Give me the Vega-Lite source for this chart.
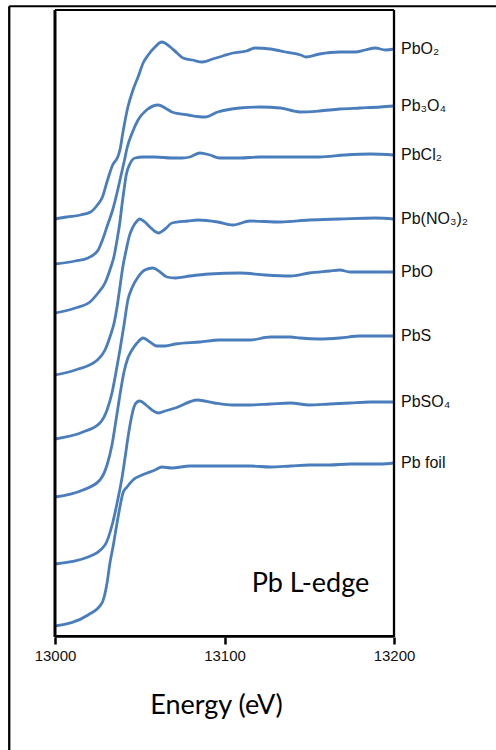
{
  "$schema": "https://vega.github.io/schema/vega-lite/v6.json",
  "width": 496,
  "height": 750,
  "padding": 0,
  "autosize": {"type": "none"},
  "background": "white",
  "config": {
    "view": {"stroke": null},
    "axisX": {"domain": false, "grid": false, "tickSize": 7, "tickWidth": 2.5, "tickColor": "black",
              "labelFont": "Liberation Sans", "labelFontSize": 15, "labelColor": "#111", "labelPadding": 4, "labelFlush": false,
              "titleFont": "Lato", "titleFontSize": 27, "titleFontWeight": 400, "titleColor": "black"}
  },
  "datasets": {
    "spectra": [
    {"sample":"PbO₂","energy":13000,"absorbance":4.18},{"sample":"PbO₂","energy":13007,"absorbance":4.20},{"sample":"PbO₂","energy":13015,"absorbance":4.22},{"sample":"PbO₂","energy":13021,"absorbance":4.25},{"sample":"PbO₂","energy":13025,"absorbance":4.32},{"sample":"PbO₂","energy":13028,"absorbance":4.40},{"sample":"PbO₂","energy":13031,"absorbance":4.57},{"sample":"PbO₂","energy":13034,"absorbance":4.72},{"sample":"PbO₂","energy":13037,"absorbance":4.80},{"sample":"PbO₂","energy":13038.3,"absorbance":4.87},{"sample":"PbO₂","energy":13040,"absorbance":5.04},{"sample":"PbO₂","energy":13043,"absorbance":5.30},{"sample":"PbO₂","energy":13046,"absorbance":5.47},{"sample":"PbO₂","energy":13049,"absorbance":5.60},{"sample":"PbO₂","energy":13052,"absorbance":5.74},{"sample":"PbO₂","energy":13055,"absorbance":5.82},{"sample":"PbO₂","energy":13059,"absorbance":5.90},{"sample":"PbO₂","energy":13063,"absorbance":5.95},{"sample":"PbO₂","energy":13068,"absorbance":5.90},{"sample":"PbO₂","energy":13072,"absorbance":5.84},{"sample":"PbO₂","energy":13075.5,"absorbance":5.79},{"sample":"PbO₂","energy":13081,"absorbance":5.77},{"sample":"PbO₂","energy":13087,"absorbance":5.75},{"sample":"PbO₂","energy":13093,"absorbance":5.78},{"sample":"PbO₂","energy":13099,"absorbance":5.81},{"sample":"PbO₂","energy":13105,"absorbance":5.84},{"sample":"PbO₂","energy":13113,"absorbance":5.86},{"sample":"PbO₂","energy":13118,"absorbance":5.89},{"sample":"PbO₂","energy":13127,"absorbance":5.88},{"sample":"PbO₂","energy":13136,"absorbance":5.85},{"sample":"PbO₂","energy":13145,"absorbance":5.82},{"sample":"PbO₂","energy":13148,"absorbance":5.80},{"sample":"PbO₂","energy":13156,"absorbance":5.83},{"sample":"PbO₂","energy":13168,"absorbance":5.85},{"sample":"PbO₂","energy":13177,"absorbance":5.85},{"sample":"PbO₂","energy":13183,"absorbance":5.87},{"sample":"PbO₂","energy":13189,"absorbance":5.89},{"sample":"PbO₂","energy":13195,"absorbance":5.87},{"sample":"PbO₂","energy":13200,"absorbance":5.88},

    {"sample":"Pb₃O₄","energy":13000,"absorbance":3.73},{"sample":"Pb₃O₄","energy":13012,"absorbance":3.76},{"sample":"Pb₃O₄","energy":13019.5,"absorbance":3.79},{"sample":"Pb₃O₄","energy":13024,"absorbance":3.84},{"sample":"Pb₃O₄","energy":13025.5,"absorbance":3.87},{"sample":"Pb₃O₄","energy":13028,"absorbance":3.97},{"sample":"Pb₃O₄","energy":13031,"absorbance":4.12},{"sample":"Pb₃O₄","energy":13034,"absorbance":4.27},{"sample":"Pb₃O₄","energy":13037,"absorbance":4.47},{"sample":"Pb₃O₄","energy":13039,"absorbance":4.62},{"sample":"Pb₃O₄","energy":13041,"absorbance":4.77},{"sample":"Pb₃O₄","energy":13042.5,"absorbance":4.89},{"sample":"Pb₃O₄","energy":13045.5,"absorbance":5.04},{"sample":"Pb₃O₄","energy":13049,"absorbance":5.17},{"sample":"Pb₃O₄","energy":13054,"absorbance":5.27},{"sample":"Pb₃O₄","energy":13061,"absorbance":5.32},{"sample":"Pb₃O₄","energy":13065,"absorbance":5.29},{"sample":"Pb₃O₄","energy":13069,"absorbance":5.25},{"sample":"Pb₃O₄","energy":13078.5,"absorbance":5.22},{"sample":"Pb₃O₄","energy":13088.5,"absorbance":5.20},{"sample":"Pb₃O₄","energy":13096,"absorbance":5.25},{"sample":"Pb₃O₄","energy":13109,"absorbance":5.29},{"sample":"Pb₃O₄","energy":13121,"absorbance":5.30},{"sample":"Pb₃O₄","energy":13133,"absorbance":5.29},{"sample":"Pb₃O₄","energy":13144.5,"absorbance":5.25},{"sample":"Pb₃O₄","energy":13156,"absorbance":5.26},{"sample":"Pb₃O₄","energy":13168,"absorbance":5.28},{"sample":"Pb₃O₄","energy":13180,"absorbance":5.29},{"sample":"Pb₃O₄","energy":13192,"absorbance":5.30},{"sample":"Pb₃O₄","energy":13200,"absorbance":5.31},

    {"sample":"PbCl₂","energy":13000,"absorbance":3.24},{"sample":"PbCl₂","energy":13012,"absorbance":3.29},{"sample":"PbCl₂","energy":13020.6,"absorbance":3.35},{"sample":"PbCl₂","energy":13025.4,"absorbance":3.44},{"sample":"PbCl₂","energy":13029.5,"absorbance":3.54},{"sample":"PbCl₂","energy":13032.4,"absorbance":3.67},{"sample":"PbCl₂","energy":13035,"absorbance":3.82},{"sample":"PbCl₂","energy":13036.6,"absorbance":3.97},{"sample":"PbCl₂","energy":13038.3,"absorbance":4.15},{"sample":"PbCl₂","energy":13039.5,"absorbance":4.32},{"sample":"PbCl₂","energy":13040.7,"absorbance":4.47},{"sample":"PbCl₂","energy":13042,"absorbance":4.62},{"sample":"PbCl₂","energy":13044.2,"absorbance":4.73},{"sample":"PbCl₂","energy":13047.2,"absorbance":4.79},{"sample":"PbCl₂","energy":13052,"absorbance":4.80},{"sample":"PbCl₂","energy":13059,"absorbance":4.80},{"sample":"PbCl₂","energy":13069,"absorbance":4.79},{"sample":"PbCl₂","energy":13075,"absorbance":4.79},{"sample":"PbCl₂","energy":13079.6,"absorbance":4.80},{"sample":"PbCl₂","energy":13085.5,"absorbance":4.84},{"sample":"PbCl₂","energy":13091.4,"absorbance":4.82},{"sample":"PbCl₂","energy":13097,"absorbance":4.79},{"sample":"PbCl₂","energy":13109,"absorbance":4.79},{"sample":"PbCl₂","energy":13121,"absorbance":4.80},{"sample":"PbCl₂","energy":13133,"absorbance":4.80},{"sample":"PbCl₂","energy":13144.5,"absorbance":4.80},{"sample":"PbCl₂","energy":13156,"absorbance":4.80},{"sample":"PbCl₂","energy":13171,"absorbance":4.82},{"sample":"PbCl₂","energy":13186,"absorbance":4.83},{"sample":"PbCl₂","energy":13200,"absorbance":4.82},

    {"sample":"Pb(NO₃)₂","energy":13000,"absorbance":2.62},{"sample":"Pb(NO₃)₂","energy":13012,"absorbance":2.67},{"sample":"Pb(NO₃)₂","energy":13025,"absorbance":2.77},{"sample":"Pb(NO₃)₂","energy":13029.5,"absorbance":2.87},{"sample":"Pb(NO₃)₂","energy":13032.4,"absorbance":3.00},{"sample":"Pb(NO₃)₂","energy":13035,"absorbance":3.15},{"sample":"Pb(NO₃)₂","energy":13036.6,"absorbance":3.30},{"sample":"Pb(NO₃)₂","energy":13038.3,"absorbance":3.50},{"sample":"Pb(NO₃)₂","energy":13040,"absorbance":3.70},{"sample":"Pb(NO₃)₂","energy":13042,"absorbance":3.87},{"sample":"Pb(NO₃)₂","energy":13043.7,"absorbance":4.00},{"sample":"Pb(NO₃)₂","energy":13046,"absorbance":4.10},{"sample":"Pb(NO₃)₂","energy":13048.4,"absorbance":4.16},{"sample":"Pb(NO₃)₂","energy":13050,"absorbance":4.18},{"sample":"Pb(NO₃)₂","energy":13053,"absorbance":4.15},{"sample":"Pb(NO₃)₂","energy":13056,"absorbance":4.10},{"sample":"Pb(NO₃)₂","energy":13061,"absorbance":4.04},{"sample":"Pb(NO₃)₂","energy":13065,"absorbance":4.08},{"sample":"Pb(NO₃)₂","energy":13069,"absorbance":4.14},{"sample":"Pb(NO₃)₂","energy":13078.5,"absorbance":4.16},{"sample":"Pb(NO₃)₂","energy":13084.4,"absorbance":4.17},{"sample":"Pb(NO₃)₂","energy":13096,"absorbance":4.15},{"sample":"Pb(NO₃)₂","energy":13105,"absorbance":4.12},{"sample":"Pb(NO₃)₂","energy":13115,"absorbance":4.16},{"sample":"Pb(NO₃)₂","energy":13133,"absorbance":4.15},{"sample":"Pb(NO₃)₂","energy":13150,"absorbance":4.17},{"sample":"Pb(NO₃)₂","energy":13168,"absorbance":4.18},{"sample":"Pb(NO₃)₂","energy":13189,"absorbance":4.19},{"sample":"Pb(NO₃)₂","energy":13200,"absorbance":4.18},

    {"sample":"PbO","energy":13000,"absorbance":1.98},{"sample":"PbO","energy":13016.5,"absorbance":2.05},{"sample":"PbO","energy":13026.5,"absorbance":2.14},{"sample":"PbO","energy":13030.7,"absorbance":2.27},{"sample":"PbO","energy":13033.6,"absorbance":2.44},{"sample":"PbO","energy":13036,"absorbance":2.65},{"sample":"PbO","energy":13038.3,"absorbance":2.87},{"sample":"PbO","energy":13040.7,"absorbance":3.12},{"sample":"PbO","energy":13043,"absorbance":3.37},{"sample":"PbO","energy":13045.4,"absorbance":3.49},{"sample":"PbO","energy":13049,"absorbance":3.60},{"sample":"PbO","energy":13053,"absorbance":3.67},{"sample":"PbO","energy":13057.8,"absorbance":3.69},{"sample":"PbO","energy":13062,"absorbance":3.65},{"sample":"PbO","energy":13066,"absorbance":3.60},{"sample":"PbO","energy":13071,"absorbance":3.59},{"sample":"PbO","energy":13079.6,"absorbance":3.61},{"sample":"PbO","energy":13091,"absorbance":3.63},{"sample":"PbO","energy":13109,"absorbance":3.64},{"sample":"PbO","energy":13124,"absorbance":3.62},{"sample":"PbO","energy":13139,"absorbance":3.61},{"sample":"PbO","energy":13150,"absorbance":3.64},{"sample":"PbO","energy":13162,"absorbance":3.66},{"sample":"PbO","energy":13168,"absorbance":3.67},{"sample":"PbO","energy":13174,"absorbance":3.65},{"sample":"PbO","energy":13186,"absorbance":3.65},{"sample":"PbO","energy":13200,"absorbance":3.65},

    {"sample":"PbS","energy":13000,"absorbance":1.40},{"sample":"PbS","energy":13016.5,"absorbance":1.47},{"sample":"PbS","energy":13026.5,"absorbance":1.57},{"sample":"PbS","energy":13030.7,"absorbance":1.72},{"sample":"PbS","energy":13033.6,"absorbance":1.92},{"sample":"PbS","energy":13036,"absorbance":2.17},{"sample":"PbS","energy":13038.3,"absorbance":2.42},{"sample":"PbS","energy":13040.7,"absorbance":2.65},{"sample":"PbS","energy":13043,"absorbance":2.79},{"sample":"PbS","energy":13045.4,"absorbance":2.87},{"sample":"PbS","energy":13048.4,"absorbance":2.94},{"sample":"PbS","energy":13052,"absorbance":2.99},{"sample":"PbS","energy":13056,"absorbance":2.95},{"sample":"PbS","energy":13060,"absorbance":2.91},{"sample":"PbS","energy":13065,"absorbance":2.91},{"sample":"PbS","energy":13071,"absorbance":2.93},{"sample":"PbS","energy":13085.5,"absorbance":2.95},{"sample":"PbS","energy":13097,"absorbance":2.97},{"sample":"PbS","energy":13115,"absorbance":2.97},{"sample":"PbS","energy":13127,"absorbance":3.00},{"sample":"PbS","energy":13139,"absorbance":3.00},{"sample":"PbS","energy":13144.5,"absorbance":2.99},{"sample":"PbS","energy":13156,"absorbance":2.98},{"sample":"PbS","energy":13168,"absorbance":2.99},{"sample":"PbS","energy":13180,"absorbance":3.01},{"sample":"PbS","energy":13200,"absorbance":3.01},

    {"sample":"PbSO₄","energy":13000,"absorbance":0.73},{"sample":"PbSO₄","energy":13019.5,"absorbance":0.80},{"sample":"PbSO₄","energy":13029.5,"absorbance":0.92},{"sample":"PbSO₄","energy":13034,"absorbance":1.14},{"sample":"PbSO₄","energy":13037,"absorbance":1.37},{"sample":"PbSO₄","energy":13039.5,"absorbance":1.59},{"sample":"PbSO₄","energy":13041.3,"absorbance":1.79},{"sample":"PbSO₄","energy":13043,"absorbance":1.99},{"sample":"PbSO₄","energy":13044.8,"absorbance":2.17},{"sample":"PbSO₄","energy":13046.6,"absorbance":2.30},{"sample":"PbSO₄","energy":13048.4,"absorbance":2.35},{"sample":"PbSO₄","energy":13050,"absorbance":2.36},{"sample":"PbSO₄","energy":13053.7,"absorbance":2.32},{"sample":"PbSO₄","energy":13057.2,"absorbance":2.27},{"sample":"PbSO₄","energy":13061,"absorbance":2.24},{"sample":"PbSO₄","energy":13065,"absorbance":2.26},{"sample":"PbSO₄","energy":13071,"absorbance":2.29},{"sample":"PbSO₄","energy":13084,"absorbance":2.37},{"sample":"PbSO₄","energy":13094,"absorbance":2.34},{"sample":"PbSO₄","energy":13105,"absorbance":2.32},{"sample":"PbSO₄","energy":13115,"absorbance":2.32},{"sample":"PbSO₄","energy":13127,"absorbance":2.33},{"sample":"PbSO₄","energy":13139,"absorbance":2.34},{"sample":"PbSO₄","energy":13150,"absorbance":2.32},{"sample":"PbSO₄","energy":13162,"absorbance":2.33},{"sample":"PbSO₄","energy":13174,"absorbance":2.34},{"sample":"PbSO₄","energy":13186,"absorbance":2.35},{"sample":"PbSO₄","energy":13200,"absorbance":2.35},

    {"sample":"Pb foil","energy":13000,"absorbance":0.11},{"sample":"Pb foil","energy":13019.5,"absorbance":0.22},{"sample":"Pb foil","energy":13027.7,"absorbance":0.34},{"sample":"Pb foil","energy":13030.7,"absorbance":0.54},{"sample":"Pb foil","energy":13032.4,"absorbance":0.74},{"sample":"Pb foil","energy":13034.2,"absorbance":0.90},{"sample":"Pb foil","energy":13036.6,"absorbance":1.14},{"sample":"Pb foil","energy":13038.3,"absorbance":1.30},{"sample":"Pb foil","energy":13040.1,"absorbance":1.44},{"sample":"Pb foil","energy":13042.5,"absorbance":1.50},{"sample":"Pb foil","energy":13046,"absorbance":1.57},{"sample":"Pb foil","energy":13051.3,"absorbance":1.62},{"sample":"Pb foil","energy":13059,"absorbance":1.67},{"sample":"Pb foil","energy":13063,"absorbance":1.70},{"sample":"Pb foil","energy":13069,"absorbance":1.69},{"sample":"Pb foil","energy":13079.6,"absorbance":1.71},{"sample":"Pb foil","energy":13097,"absorbance":1.71},{"sample":"Pb foil","energy":13115,"absorbance":1.71},{"sample":"Pb foil","energy":13127,"absorbance":1.70},{"sample":"Pb foil","energy":13139,"absorbance":1.71},{"sample":"Pb foil","energy":13150,"absorbance":1.72},{"sample":"Pb foil","energy":13162,"absorbance":1.72},{"sample":"Pb foil","energy":13174,"absorbance":1.73},{"sample":"Pb foil","energy":13192,"absorbance":1.73},{"sample":"Pb foil","energy":13200,"absorbance":1.74}
    ],
    "single": [{}]
  },
  "layer": [
    {
      "data": {"name": "spectra"},
      "mark": {"type": "line", "color": "#4a7dbb", "strokeWidth": 2.8, "interpolate": "monotone"},
      "encoding": {
        "x": {"field": "energy", "type": "quantitative",
              "scale": {"domain": [12967.55, 13260.17], "nice": false, "zero": false},
              "axis": {"values": [13000, 13100, 13200], "format": "d", "offset": -113,
                       "title": "Energy (eV)", "titleX": 216, "titleY": 76, "titleBaseline": "alphabetic", "titleAlign": "center"}},
        "y": {"field": "absorbance", "type": "quantitative",
              "scale": {"domain": [-1.13, 6.37], "nice": false, "zero": false}, "axis": null},
        "detail": {"field": "sample", "type": "nominal"}
      }
    },
    {
      "data": {"name": "spectra"},
      "transform": [{"filter": "datum.energy == 13200"}],
      "mark": {"type": "text", "align": "left", "baseline": "middle", "dx": 7, "font": "Liberation Sans", "fontSize": 16, "color": "#111"},
      "encoding": {
        "x": {"field": "energy", "type": "quantitative"},
        "y": {"field": "absorbance", "type": "quantitative", "axis": null},
        "text": {"field": "sample", "type": "nominal"}
      }
    },
    {
      "data": {"name": "single"},
      "mark": {"type": "text", "text": "Pb L-edge", "align": "left", "baseline": "alphabetic", "font": "Lato", "fontSize": 27, "fontWeight": 400, "color": "black"},
      "encoding": {"x": {"datum": 13116}, "y": {"datum": 0.45, "axis": null}}
    },
    {
      "data": {"name": "single"},
      "mark": {"type": "rule", "color": "black", "strokeWidth": 3},
      "encoding": {"x": {"datum": 13000}, "y": {"datum": 0, "axis": null}, "y2": {"datum": 6.27}}
    },
    {
      "data": {"name": "single"},
      "mark": {"type": "rule", "color": "black", "strokeWidth": 2.3},
      "encoding": {"x": {"datum": 13200}, "y": {"datum": 0, "axis": null}, "y2": {"datum": 6.27}}
    },
    {
      "data": {"name": "single"},
      "mark": {"type": "rule", "color": "black", "strokeWidth": 1.8},
      "encoding": {"x": {"datum": 13000}, "x2": {"datum": 13200}, "y": {"datum": 6.27, "axis": null}}
    },
    {
      "data": {"name": "single"},
      "mark": {"type": "rule", "color": "black", "strokeWidth": 2.7},
      "encoding": {"x": {"datum": 13000}, "x2": {"datum": 13200}, "y": {"datum": 0.007, "axis": null}}
    },
    {
      "data": {"name": "single"},
      "mark": {"type": "rule", "color": "black", "strokeWidth": 2.3},
      "encoding": {"x": {"datum": 12973}, "y": {"datum": 6.307, "axis": null}, "y2": {"datum": -1.13}}
    },
    {
      "data": {"name": "single"},
      "mark": {"type": "rule", "color": "black", "strokeWidth": 2},
      "encoding": {"x": {"datum": 12973}, "x2": {"datum": 13260.17}, "y": {"datum": 6.307, "axis": null}}
    }
  ]
}
